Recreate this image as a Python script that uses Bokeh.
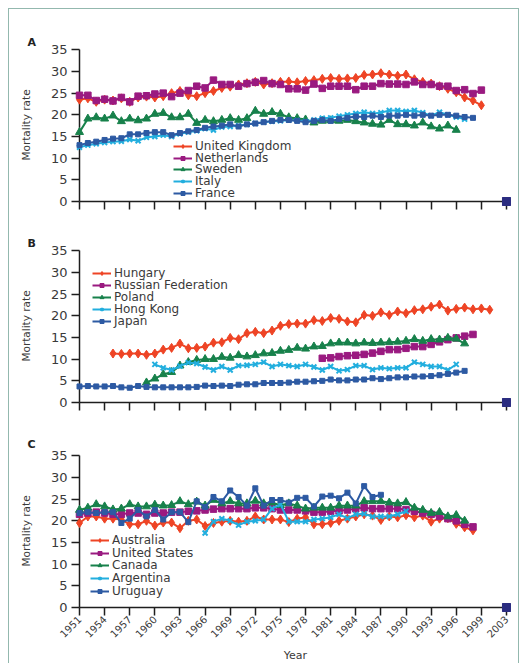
from bokeh.plotting import figure
from bokeh.models import Range1d, FixedTicker, Legend, LegendItem, Column
from bokeh.embed import file_html
from bokeh.resources import INLINE

# ---------------- data ----------------
TICK_YEARS = [1951, 1954, 1957, 1960, 1963, 1966, 1969, 1972, 1975, 1978,
              1981, 1984, 1987, 1990, 1993, 1996, 1999, 2003]
Y_TICKS = [0, 5, 10, 15, 20, 25, 30, 35]
END_YEAR = [2003]
END_VALUE = [0]

# panel A
A_NAMES = ["United Kingdom", "Netherlands", "Sweden", "Italy", "France"]
A_START = [1951, 1951, 1951, 1951, 1951]
uk = [23.5, 23.8, 23.0, 23.5, 23.3, 23.8, 23.0, 24.0, 24.2, 24.0, 24.3, 25.0, 25.5, 24.5, 24.3,
      25.0, 25.5, 26.2, 26.5, 27.0, 27.3, 27.6, 27.0, 27.3, 27.6, 27.7, 27.5, 27.8, 28.0, 28.3,
      28.5, 28.3, 28.4, 28.5, 29.2, 29.3, 29.6, 29.3, 29.0, 29.3, 28.2, 27.6, 27.2, 26.6, 26.0,
      25.2, 24.0, 23.3, 22.2]
netherlands = [24.5, 24.5, 23.3, 23.6, 23.2, 24.0, 23.0, 24.3, 24.4, 24.8, 25.0, 24.2, 25.0, 25.6,
               26.6, 26.2, 28.0, 27.0, 27.0, 26.6, 27.2, 27.5, 27.9, 27.2, 27.0, 26.0, 26.0, 25.7,
               27.1, 26.1, 26.6, 26.6, 26.6, 25.8, 26.6, 26.6, 27.2, 27.1, 27.1, 27.0, 27.6, 27.0,
               27.0, 26.6, 26.6, 25.6, 25.8, 24.9, 25.7]
sweden = [16.0, 19.1, 19.4, 19.1, 19.8, 18.5, 19.1, 18.7, 19.1, 20.2, 20.4, 19.4, 19.4, 20.2, 18.1,
          18.8, 18.5, 18.8, 19.2, 18.8, 19.2, 20.9, 20.2, 20.6, 20.2, 19.4, 19.2, 18.9, 18.2, 18.6,
          18.7, 18.6, 18.8, 18.5, 18.2, 17.9, 17.7, 18.8, 17.8, 17.8, 17.5, 18.2, 17.3, 16.8, 17.5,
          16.5]
italy = [12.5, 13.0, 13.3, 13.6, 13.8, 13.9, 14.3, 14.0, 14.8, 15.0, 15.3, 15.0, 15.6, 16.0, 16.3,
         16.8, 16.5, 17.2, 17.3, 17.5, 17.8, 18.0, 18.3, 18.5, 18.6, 18.8, 18.7, 18.5, 18.8, 19.2,
         19.3, 19.7, 20.0, 20.3, 20.6, 20.3, 20.5, 21.0, 21.0, 20.8, 21.0, 20.5, 19.8, 20.6, 20.0,
         19.5, 19.0]
france = [13.0, 13.5, 13.8, 14.2, 14.5, 14.6, 15.5, 15.5, 15.8, 16.0, 16.0, 15.3, 15.8, 16.2, 16.5,
          17.0, 17.3, 17.5, 17.8, 17.3, 17.8, 18.0, 18.3, 18.6, 18.8, 18.8, 18.6, 18.3, 18.6, 18.8,
          18.6, 19.0, 19.3, 19.6, 19.5, 19.8, 19.5, 19.8, 19.8, 20.0, 19.8, 20.0, 19.8, 20.0, 20.0,
          19.8, 19.5, 19.3]

# panel B
B_NAMES = ["Hungary", "Russian Federation", "Poland", "Hong Kong", "Japan"]
B_START = [1955, 1980, 1959, 1960, 1951]
hungary = [11.3, 11.2, 11.3, 11.3, 11.0, 11.3, 12.2, 12.6, 13.6, 12.5, 12.6, 12.9, 13.8, 13.9, 14.9,
           14.6, 16.0, 16.3, 16.0, 16.6, 17.7, 18.1, 18.2, 18.2, 19.0, 18.8, 19.5, 19.3, 18.7, 18.5,
           20.2, 20.0, 20.8, 20.2, 21.0, 20.6, 21.3, 21.5, 22.1, 22.6, 21.2, 21.6, 21.9, 21.5, 21.7,
           21.4]
russia = [10.2, 10.3, 10.6, 10.8, 10.9, 11.1, 11.4, 11.8, 12.2, 12.2, 12.5, 12.9, 12.9, 13.4, 14.0,
          14.5, 14.9, 15.3, 15.7]
poland = [4.6, 5.5, 6.5, 7.0, 8.5, 9.3, 9.8, 10.0, 10.0, 10.5, 10.3, 10.9, 10.6, 10.9, 11.3, 11.4,
          11.9, 12.1, 12.6, 12.4, 12.9, 13.0, 13.6, 13.8, 13.8, 13.6, 13.8, 13.7, 13.8, 13.9, 14.0,
          14.2, 14.6, 14.2, 14.6, 14.5, 14.9, 14.7, 13.6]
hong_kong = [8.8, 8.0, 7.5, 8.4, 9.2, 9.0, 8.2, 7.5, 8.3, 7.5, 8.5, 8.6, 8.8, 9.3, 8.3, 8.8, 8.5,
             8.3, 8.8, 8.2, 7.5, 8.3, 7.3, 7.6, 8.5, 8.5, 7.6, 8.0, 7.8, 8.0, 8.0, 9.3, 8.8, 8.3,
             8.3, 7.5, 8.8]
japan = [3.7, 3.8, 3.7, 3.7, 3.8, 3.5, 3.4, 3.8, 3.6, 3.5, 3.5, 3.5, 3.5, 3.5, 3.6, 3.9, 3.8, 3.9,
         3.8, 4.1, 4.2, 4.2, 4.5, 4.5, 4.5, 4.6, 4.8, 4.8, 4.9, 5.0, 5.3, 5.1, 5.1, 5.3, 5.3, 5.6,
         5.4, 5.6, 5.8, 5.8, 6.0, 6.0, 6.1, 6.3, 6.6, 6.9, 7.3]

# panel C
C_NAMES = ["Australia", "United States", "Canada", "Argentina", "Uruguay"]
C_START = [1951, 1951, 1951, 1966, 1951]
australia = [19.5, 21.0, 21.0, 20.5, 20.5, 20.3, 19.2, 19.2, 20.0, 18.9, 19.6, 19.6, 18.3, 20.0, 20.3,
             18.8, 19.5, 19.8, 20.0, 19.8, 20.0, 21.0, 20.3, 20.3, 20.3, 19.7, 20.5, 20.8, 19.2, 19.2,
             19.5, 20.0, 20.5, 21.0, 21.5, 21.2, 20.2, 21.0, 20.8, 21.3, 20.8, 21.2, 19.8, 20.5, 20.6,
             19.3, 18.5, 17.8]
united_states = [21.5, 21.8, 22.0, 21.8, 21.5, 21.5, 21.8, 21.8, 21.5, 21.8, 21.8, 22.0, 22.0, 22.2,
                 22.3, 22.5, 22.7, 22.8, 22.8, 22.8, 22.8, 23.0, 23.0, 22.8, 22.5, 22.5, 22.5, 22.3,
                 22.0, 22.0, 22.2, 22.3, 22.5, 22.8, 23.0, 22.8, 22.8, 22.8, 22.8, 22.6, 22.2, 21.8,
                 21.5, 21.0, 20.5, 20.0, 19.2, 18.6]
canada = [22.5, 23.0, 23.8, 23.3, 22.6, 22.8, 23.8, 23.3, 23.3, 23.7, 23.5, 23.6, 24.5, 23.8, 24.4,
          23.5, 24.8, 24.0, 24.5, 24.0, 24.0, 24.6, 24.0, 24.2, 23.6, 24.0, 23.5, 22.8, 23.0, 23.0,
          23.0, 23.5, 23.5, 23.5, 24.5, 24.5, 24.5, 24.2, 24.0, 24.3, 23.0, 22.5, 21.8, 22.0, 21.0,
          21.3, 20.0]
argentina = [17.2, 19.8, 20.5, 20.0, 19.0, 19.8, 20.0, 20.3, 22.8, 23.8, 19.8, 19.8, 19.8, 20.3, 20.5,
             20.8, 21.5, 20.6, 21.5, 21.6, 21.0, 21.0, 21.0, 21.5, 22.2]
uruguay = [21.8, 22.0, 21.8, 22.0, 22.0, 19.5, 20.5, 22.5, 21.0, 22.5, 20.3, 22.0, 22.0, 19.7, 24.5,
           23.2, 25.5, 24.5, 27.0, 25.5, 23.5, 27.5, 23.5, 24.8, 24.8, 24.2, 25.3, 25.3, 23.3, 25.6,
           25.8, 25.2, 26.5, 24.0, 28.0, 25.5, 26.0]

# ---------------- styling ----------------
COLORS = ["#ee4425", "#9a1a80", "#17814b", "#22aede", "#2d5aa3"]
MARKERS = ["diamond", "square", "triangle", "x", "square"]
MSIZES = [9, 6.5, 8, 7, 5]
FONT = "DejaVu Sans"
AXIS_COLOR = "#1e1e1e"
TEXT_COLOR = "#3a3a3a"


def xpos(year):
    # the original axis places its last tick (2003) one year-step after 2001
    return year if year <= 2000 else year - 1


def make_panel(letter, names, starts, series, legend_x, legend_y, legend_font, legend_step,
               top, bottom, title_standoff, show_x_labels):
    p = figure(width=509, frame_width=432, frame_height=153,
               min_border_left=70, min_border_right=7,
               min_border_top=top, min_border_bottom=bottom,
               x_range=Range1d(1951, 2002.6), y_range=Range1d(0, 35.3),
               output_backend="svg", toolbar_location=None)
    p.outline_line_color = None
    p.grid.visible = False
    p.background_fill_color = "white"
    p.border_fill_color = "white"

    p.title.text = letter
    p.title.align = "left"
    p.title.offset = -52
    p.title.standoff = title_standoff
    p.title.text_font = FONT
    p.title.text_font_size = "11px"
    p.title.text_font_style = "bold"
    p.title.text_color = "#222222"

    n = len(names)
    for i, (name, start, vals, col, mk, ms) in enumerate(
            zip(names, starts, series, COLORS, MARKERS, MSIZES)):
        xs = [xpos(start + k) for k in range(len(vals))]
        lr = p.line(xs, vals, line_color=col, line_width=2, level="overlay")
        if mk == "x":
            sr = p.scatter(xs, vals, marker=mk, size=ms, line_color=col, line_width=2,
                           level="overlay")
        else:
            sr = p.scatter(xs, vals, marker=mk, size=ms, fill_color=col, line_color=col,
                           level="overlay")
        # one legend box per row so the rows can sit as tightly as in the original
        leg = Legend(items=[LegendItem(label=name, renderers=[lr, sr])],
                     location=(legend_x, legend_y + (n - 1 - i) * legend_step),
                     border_line_color=None, background_fill_alpha=0,
                     padding=0, margin=0, spacing=0,
                     glyph_width=19, glyph_height=10, label_height=10,
                     label_standoff=3, label_text_font=FONT,
                     label_text_font_size=legend_font, label_text_color=TEXT_COLOR)
        p.add_layout(leg)

    p.scatter([xpos(y) for y in END_YEAR], END_VALUE, marker="square_x", size=8,
              fill_color="#2b2d80", line_color="#2b2d80", level="overlay")

    ax = p.xaxis[0]
    ax.ticker = FixedTicker(ticks=[xpos(t) for t in TICK_YEARS])
    ax.bounds = (1951, xpos(2003))
    ax.axis_line_color = AXIS_COLOR
    ax.axis_line_width = 1.5
    ax.major_tick_line_color = AXIS_COLOR
    ax.major_tick_line_width = 1.5
    ax.major_tick_out = 8
    ax.major_tick_in = 0
    ax.minor_tick_line_color = None
    ax.major_label_text_font = FONT
    ax.major_label_text_font_size = "10px"
    ax.major_label_text_color = TEXT_COLOR
    if show_x_labels:
        ax.major_label_overrides = {xpos(t): str(t) for t in TICK_YEARS}
        ax.major_label_orientation = 0.785398
        ax.major_label_standoff = 2
        ax.axis_label = "Year"
        ax.axis_label_text_font = FONT
        ax.axis_label_text_font_size = "11px"
        ax.axis_label_text_font_style = "normal"
        ax.axis_label_text_color = TEXT_COLOR
        ax.axis_label_standoff = 5
    else:
        ax.major_label_overrides = {xpos(t): "" for t in TICK_YEARS}
        ax.major_label_standoff = 0

    ay = p.yaxis[0]
    ay.ticker = FixedTicker(ticks=Y_TICKS)
    ay.bounds = (0, 35)
    ay.axis_line_color = AXIS_COLOR
    ay.axis_line_width = 1.5
    ay.major_tick_line_color = AXIS_COLOR
    ay.major_tick_line_width = 1.5
    ay.major_tick_out = 8
    ay.major_tick_in = 0
    ay.minor_tick_line_color = None
    ay.major_label_text_font = FONT
    ay.major_label_text_font_size = "13px"
    ay.major_label_text_color = TEXT_COLOR
    ay.major_label_standoff = 4
    ay.axis_label = "Mortality rate"
    ay.axis_label_text_font = FONT
    ay.axis_label_text_font_size = "10.5px"
    ay.axis_label_text_font_style = "normal"
    ay.axis_label_text_color = TEXT_COLOR
    ay.axis_label_standoff = 16
    return p


pa = make_panel("A", A_NAMES, A_START, [uk, netherlands, sweden, italy, france],
                94, 1, "12px", 11.8, 39, 12, 0, False)
pb = make_panel("B", B_NAMES, B_START, [hungary, russia, poland, hong_kong, japan],
                13, 74, "12px", 11.9, 36, 12, 0, False)
pc = make_panel("C", C_NAMES, C_START, [australia, united_states, canada, argentina, uruguay],
                11, 9, "12px", 12.8, 40, 56, 8, True)

layout = Column(children=[pa, pb, pc],
                styles={"margin-left": "8px", "margin-top": "8px",
                        "border-left": "1px solid #93b8ae", "border-top": "1px solid #93b8ae",
                        "border-right": "1px solid #93b8ae"})

html = file_html(layout, INLINE)
html = html.replace("<head>", "<head><style>html,body{overflow:hidden;}</style>", 1)
open("out.html", "w").write(html)
